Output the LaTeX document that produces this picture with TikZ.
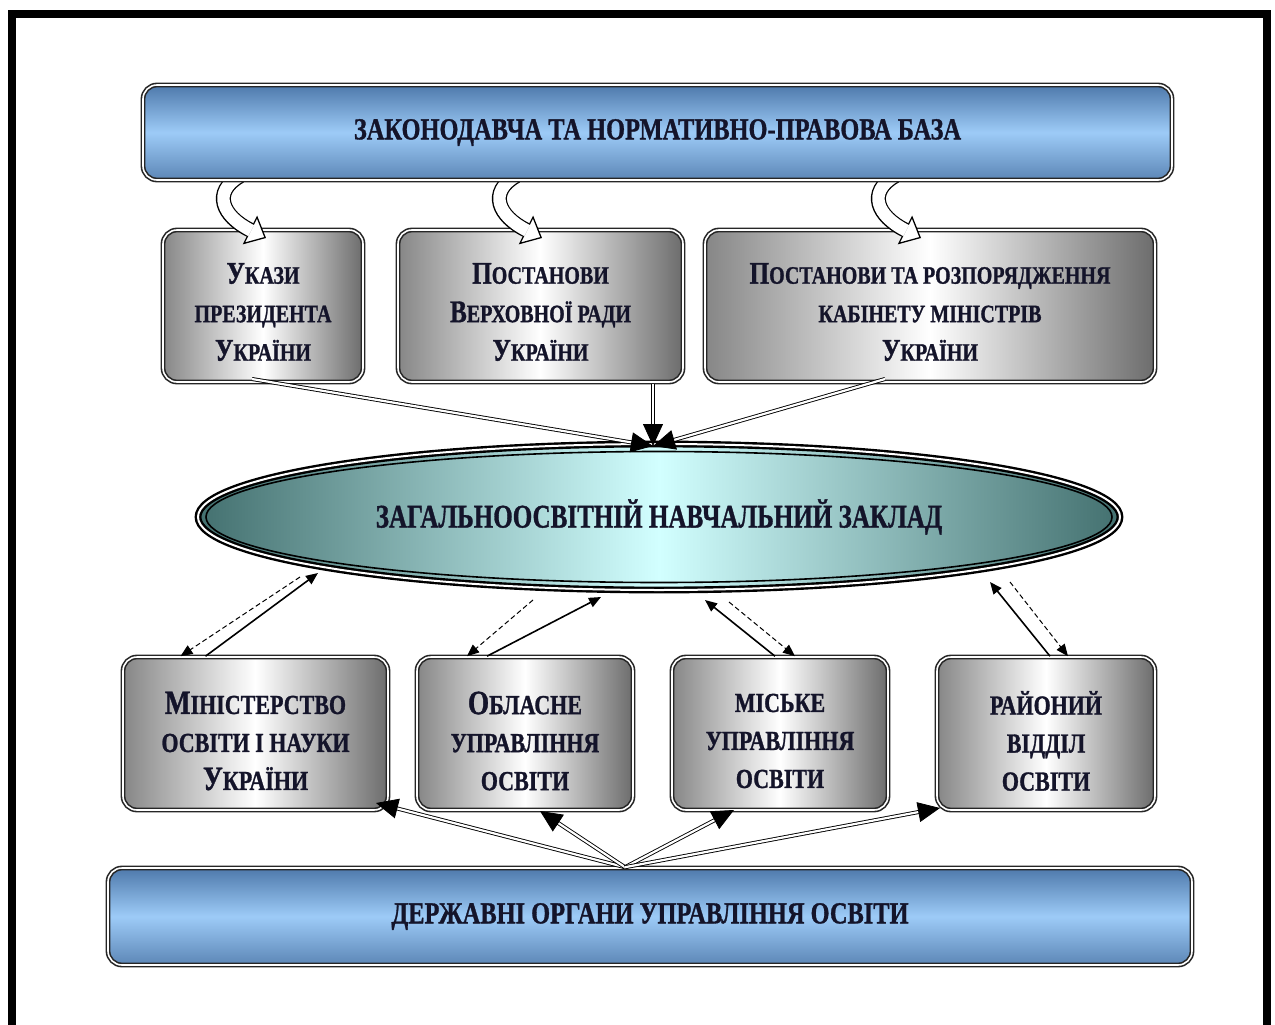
\documentclass[tikz,border=0pt]{standalone}
\usepackage{fontspec}
\setmainfont{Liberation Serif}[BoldFeatures={FakeBold=1.2}]
\usetikzlibrary{shapes.geometric,arrows.meta,calc}
\definecolor{barTop}{HTML}{4E79AB}
\definecolor{barMid}{HTML}{9DCBF7}
\definecolor{barBot}{HTML}{5C86B6}
\definecolor{gL}{HTML}{868686}
\definecolor{gR}{HTML}{6C6C6C}
\definecolor{eEdge}{HTML}{43706F}
\definecolor{eMid}{HTML}{D2FFFF}
\definecolor{ink}{HTML}{14142A}
\newcommand\Lg[1]{{\fontsize{31.5}{38}\selectfont #1}}
\newcommand\Lgb[1]{{\fontsize{34}{38}\selectfont #1}}
\newcommand\hs[1]{\scalebox{0.8}[1]{#1}}
\tikzset{
  dblborder/.style={draw=black!85, line width=1.6pt, double=white, double distance=1.6pt},
  bar/.style={dblborder, rounded corners=14pt, top color=barTop, bottom color=barBot, middle color=barMid,
     text=ink, font=\bfseries\fontsize{30.5}{36}\selectfont, inner sep=0pt},
  gbox/.style={dblborder, rounded corners=14pt, left color=gL, right color=gR, middle color=white, inner sep=0pt},
  boxtext/.style={text=ink, align=center, inner sep=0pt, font=\bfseries\fontsize{25}{38.5}\selectfont},
  boxtextb/.style={text=ink, align=center, inner sep=0pt, font=\bfseries\fontsize{27.5}{38}\selectfont},
  dshaft/.style={draw=black, line width=0.9pt, double=white, double distance=2.2pt},
  bighead/.style={line width=0.8pt, -{Triangle[length=22pt,width=20pt]}},
  solidarr/.style={line width=1.6pt, -{Triangle[length=12pt,width=10pt]}},
  dasharr/.style={line width=1pt, dash pattern=on 5pt off 3pt, -{Triangle[length=12pt,width=10pt]}},
}
\newcommand\curvy[1]{%
  \begin{scope}[xshift=#1]
    \draw[line width=15pt, black, -{Triangle[length=18pt,width=32pt,line width=1.3pt,fill=white]}]
      (240,176) .. controls (212,192) and (222,216) .. (266,238);
    \draw[line width=12.4pt, white, shorten >=16.5pt]
      (240,176) .. controls (212,192) and (222,216) .. (266,238);
  \end{scope}}
\begin{document}
\begin{tikzpicture}[x=1pt,y=-1pt]
\useasboundingbox (0,0) rectangle (1275,1025);
\fill[white] (0,0) rectangle (1275,1025);
\begin{scope}
\clip (0,0) rectangle (1275,1025);
\draw[line width=8pt] (12,1040) -- (12,14) -- (1267,14) -- (1267,1040);
\end{scope}

% middle row boxes
\node[gbox, minimum width=200pt, minimum height=152pt] (b1) at (263,306) {};
\node[gbox, minimum width=285pt, minimum height=152pt] (b2) at (540.5,306) {};
\node[gbox, minimum width=450pt, minimum height=152pt] (b3) at (930,306) {};
\node[boxtext] (b1t) at ($(b1.center)+(0,6)$)
  {\hs{\Lg{У}КАЗИ}\\\hs{ПРЕЗИДЕНТА}\\\hs{\Lg{У}КРАЇНИ}};
\node[boxtext] (b2t) at ($(b2.center)+(0,6)$)
  {\hs{\Lg{П}ОСТАНОВИ}\\\hs{\Lg{В}ЕРХОВНОЇ РАДИ}\\\hs{\Lg{У}КРАЇНИ}};
\node[boxtext] (b3t) at ($(b3.center)+(0,6)$)
  {\hs{\Lg{П}ОСТАНОВИ ТА РОЗПОРЯДЖЕННЯ}\\\hs{КАБІНЕТУ МІНІСТРІВ}\\\hs{\Lg{У}КРАЇНИ}};

% curved hollow arrows from the top bar
\curvy{0pt}
\curvy{276pt}
\curvy{655pt}

% top bar
\node[bar, minimum width=1029pt, minimum height=95pt] (top) at (657.5,132.5)
  {\hs{ЗАКОНОДАВЧА ТА НОРМАТИВНО-ПРАВОВА БАЗА}};

% ellipse
\node[ellipse, draw=black, line width=2.4pt, double=white, double distance=2pt,
  left color=eEdge, right color=eEdge, middle color=eMid,
  minimum width=922pt, minimum height=146pt, inner sep=0pt,
  text=ink, font=\bfseries\fontsize{33}{36}\selectfont] (ell) at (659,517)
  {\scalebox{0.76}[1]{ЗАГАЛЬНООСВІТНІЙ НАВЧАЛЬНИЙ ЗАКЛАД}};
\draw[line width=1.6pt] (ell.center) ellipse [x radius=453pt, y radius=65.5pt];

% converging arrows into the ellipse
\coordinate (etop) at (653,446);
\coordinate (s1) at (252,379);
\coordinate (s2) at (653,384);
\coordinate (s3) at (885,379);
\draw[dshaft, shorten >=20pt] (s1) -- (etop);
\draw[dshaft, shorten >=20pt] (s3) -- (etop);
\draw[dshaft, shorten >=20pt] (s2) -- (etop);
\draw[bighead] ($(etop)!4pt!(s1)$) -- (etop);
\draw[bighead] ($(etop)!4pt!(s3)$) -- (etop);
\draw[bighead] ($(etop)!4pt!(s2)$) -- (etop);

% bottom row boxes
\node[gbox, minimum width=265pt, minimum height=153pt] (c1) at (255.5,733.5) {};
\node[gbox, minimum width=216pt, minimum height=153pt] (c2) at (525,733.5) {};
\node[gbox, minimum width=216pt, minimum height=153pt] (c3) at (780,733.5) {};
\node[gbox, minimum width=218pt, minimum height=153pt] (c4) at (1046,733.5) {};
\node[boxtextb] (c1t) at ($(c1.center)+(0,7.5)$)
  {\hs{\Lgb{М}ІНІСТЕРСТВО}\\\hs{ОСВІТИ І НАУКИ}\\\hs{\Lgb{У}КРАЇНИ}};
\node[boxtextb] (c2t) at ($(c2.center)+(0,7.5)$)
  {\hs{\Lgb{О}БЛАСНЕ}\\\hs{УПРАВЛІННЯ}\\\hs{ОСВІТИ}};
\node[boxtextb] (c3t) at ($(c3.center)+(0,7.5)$)
  {\hs{МІСЬКЕ}\\\hs{УПРАВЛІННЯ}\\\hs{ОСВІТИ}};
\node[boxtextb] (c4t) at ($(c4.center)+(0,7.5)$)
  {\hs{РАЙОНИЙ}\\\hs{ВІДДІЛ}\\\hs{ОСВІТИ}};

% ellipse <-> bottom boxes
\coordinate (e1s) at (300,577); \coordinate (e1t) at (318,573);
\coordinate (e2s) at (533,600); \coordinate (e2t) at (601,597);
\coordinate (e3t) at (705,600); \coordinate (e3s) at (729,602);
\coordinate (e4t) at (990,582); \coordinate (e4s) at (1010,582);
\draw[dasharr] (e1s) -- ([xshift=-75pt]c1.north);
\draw[solidarr] ([xshift=-50pt]c1.north) -- (e1t);
\draw[dasharr] (e2s) -- ([xshift=-58pt]c2.north);
\draw[solidarr] ([xshift=-38pt]c2.north) -- (e2t);
\draw[solidarr] ([xshift=-5pt]c3.north) -- (e3t);
\draw[dasharr] (e3s) -- ([xshift=15pt]c3.north);
\draw[solidarr] ([xshift=4pt]c4.north) -- (e4t);
\draw[dasharr] (e4s) -- ([xshift=22pt]c4.north);

% bottom bar
\node[bar, minimum width=1084pt, minimum height=97pt] (bot) at (650,916.5)
  {\hs{ДЕРЖАВНІ ОРГАНИ УПРАВЛІННЯ ОСВІТИ}};

% fan arrows from bottom bar
\coordinate (src) at ([xshift=-25pt]bot.north);
\coordinate (f1) at (376,803);
\coordinate (f2) at (540,811);
\coordinate (f3) at (734,810);
\coordinate (f4) at (940,808);
\foreach \f in {f1,f2,f3,f4}{
  \draw[dshaft, shorten >=20pt] (src) -- (\f);
  \draw[bighead] ($(\f)!4pt!(src)$) -- (\f);
}
\end{tikzpicture}
\end{document}
